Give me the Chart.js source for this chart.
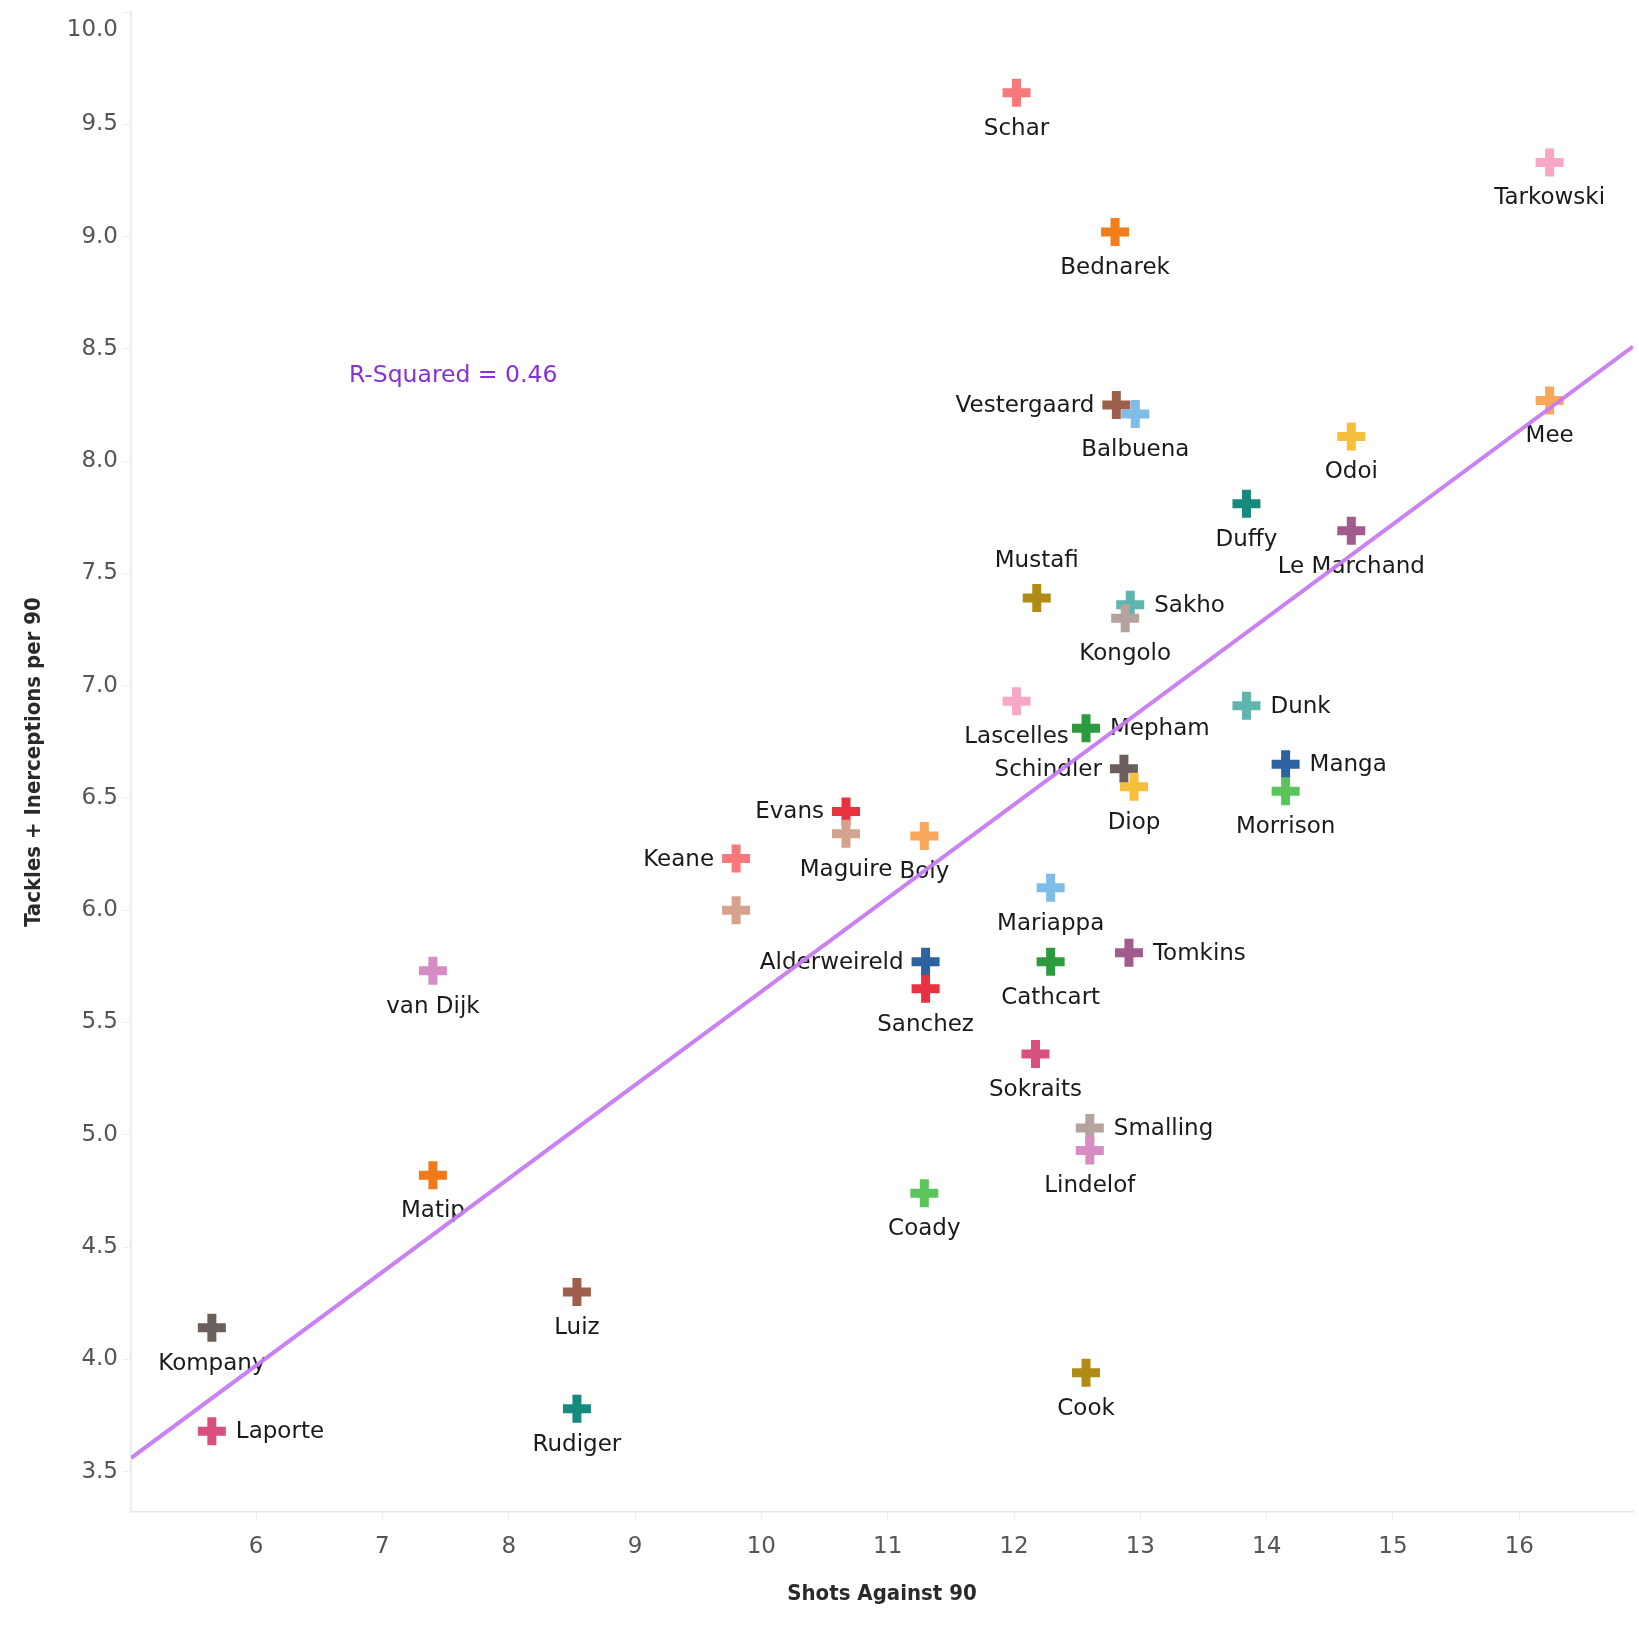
<!DOCTYPE html>
<html><head><meta charset="utf-8">
<script src="https://cdn.jsdelivr.net/npm/chart.js@4.4.1/dist/chart.umd.min.js"></script>
<style>html,body{margin:0;padding:0;background:#fff;}#wrap{width:1639px;height:1629px;position:relative;}</style>
</head><body><div id="wrap"><canvas id="c"></canvas></div>
<script>
// ---- data ----
const players = ["Schar","Tarkowski","Bednarek","Vestergaard","Balbuena","Mee","Odoi","Duffy","Le Marchand","Mustafi",
  "Sakho","Kongolo","Lascelles","Dunk","Mepham","Manga","Schindler","Diop","Morrison","Evans",
  "Maguire","Boly","Keane","Mariappa","","Tomkins","Alderweireld","Cathcart","van Dijk","Sanchez",
  "Sokraits","Smalling","Lindelof","Matip","Coady","Luiz","Kompany","Cook","Rudiger","Laporte"];
const shotsAgainst90 = [12.02,16.24,12.80,12.81,12.96,16.24,14.67,13.84,14.67,12.18,
  12.92,12.88,12.02,13.84,12.57,14.15,12.87,12.95,14.15,10.67,
  10.67,11.29,9.80,12.29,9.80,12.91,11.30,12.29,7.40,11.30,
  12.17,12.60,12.60,7.40,11.29,8.54,5.65,12.57,8.54,5.65];
const tacklesInterceptions90 = [9.64,9.33,9.02,8.25,8.21,8.27,8.11,7.81,7.69,7.39,
  7.36,7.30,6.93,6.91,6.81,6.65,6.63,6.55,6.53,6.44,
  6.34,6.33,6.23,6.10,6.00,5.81,5.77,5.77,5.73,5.65,
  5.36,5.03,4.93,4.82,4.74,4.30,4.14,3.94,3.78,3.68];
const pointColors = ["#f8787b","#f7a8c6","#f07d1a","#9c604c","#7fbde8","#f9a75a","#f5bf3c","#178a80","#a15b8c","#b08c16",
  "#5fb5ad","#b5a39e","#f7a8c6","#5fb5ad","#2e9a3e","#2e62a0","#6b5f5c","#f5bf3c","#5cc45c","#e8323f",
  "#d5a28e","#f9a75a","#f8787b","#7fbde8","#d5a28e","#a15b8c","#2e62a0","#2e9a3e","#d88cc4","#e8323f",
  "#d9507f","#b5a39e","#d88cc4","#f2791a","#5cc45c","#9c604c","#6b5f5c","#b08c16","#178a80","#d9507f"];
// label placement relative to marker: b=below, t=above, l=left, r=right
const labelSide = ["b","b","b","l","b","b","b","b","b","t",
  "r","b","b","r","r","r","l","b","b","l",
  "b","b","l","b","b","r","l","b","b","b",
  "b","r","b","b","b","b","b","b","b","r"];
const xTicks = [6,7,8,9,10,11,12,13,14,15,16];
const yTicks = [3.5,4.0,4.5,5.0,5.5,6.0,6.5,7.0,7.5,8.0,8.5,9.0,9.5,10.0];
const xRange = [5.01, 16.9];
const yRange = [3.32, 10.0];
const trendX = [5.01, 16.9];
const trendY = [3.56, 8.51];
const rSquaredText = "R-Squared = 0.46";
const rSquaredAt = [7.56, 8.38];
const xTitle = "Shots Against 90";
const yTitle = "Tackles + Inerceptions per 90";

const scatterData = shotsAgainst90.map((x, i) => ({x, y: tacklesInterceptions90[i]}));
const trendData = trendX.map((x, i) => ({x, y: trendY[i]}));

const labelPlugin = {
  id: 'pointLabels',
  beforeDatasetsDraw(chart) {
    const meta = chart.getDatasetMeta(1);
    const ctx = chart.ctx;
    ctx.save();
    ctx.font = '23px "DejaVu Sans"';
    ctx.fillStyle = '#1a1a1a';
    meta.data.forEach((pt, i) => {
      const name = players[i];
      if (!name) return;
      const side = labelSide[i];
      let x = pt.x, y = pt.y;
      ctx.textBaseline = 'middle';
      if (side === 'b') { ctx.textAlign = 'center'; y += 36; }
      else if (side === 't') { ctx.textAlign = 'center'; y -= 37; }
      else if (side === 'r') { ctx.textAlign = 'left'; x += 24; y += 1; }
      else { ctx.textAlign = 'right'; x -= 22; y += 1; }
      ctx.fillText(name, x, y);
    });
    const xs = chart.scales.x, ys = chart.scales.y;
    ctx.font = '23.5px "DejaVu Sans"';
    ctx.fillStyle = '#8a2fd8';
    ctx.textAlign = 'center';
    ctx.textBaseline = 'middle';
    ctx.fillText(rSquaredText, xs.getPixelForValue(rSquaredAt[0]), ys.getPixelForValue(rSquaredAt[1]));
    ctx.restore();
  }
};

new Chart(document.getElementById('c'), {
  data: {
    datasets: [
      { type: 'line', data: trendData, borderColor: 'rgba(198,122,242,0.95)', borderWidth: 4,
        pointRadius: 0, fill: false, order: 0 },
      { type: 'scatter', data: scatterData, pointStyle: 'cross', pointRadius: 14, pointHoverRadius: 14,
        pointBorderWidth: 9, pointHoverBorderWidth: 9,
        pointBorderColor: pointColors, pointBackgroundColor: pointColors, order: 1 }
    ]
  },
  options: {
    responsive: true, maintainAspectRatio: false, animation: false,
    layout: { autoPadding: false, padding: { top: 12, right: 6, left: 0, bottom: 0 } },
    plugins: { legend: { display: false }, tooltip: { enabled: false } },
    scales: {
      x: {
        type: 'linear', min: xRange[0], max: xRange[1],
        afterBuildTicks: s => { s.ticks = xTicks.map(v => ({ value: v })); },
        afterFit: s => { s.height = 117; s.paddingLeft = 0; s.paddingRight = 0; },
        ticks: { color: '#555', font: { family: 'DejaVu Sans', size: 23 }, padding: 13, maxRotation: 0,
          callback: v => String(v) },
        grid: { display: true, drawOnChartArea: false, drawTicks: true, tickLength: 8, color: '#eeeeee' },
        border: { display: true, color: '#e6e6e6', width: 1.5 },
        title: { display: true, text: xTitle, color: '#2a2a2a',
          font: { family: "'DejaVu Sans Condensed', 'DejaVu Sans'", weight: 'bold', size: 22 },
          padding: { top: 0, bottom: 22 } }
      },
      y: {
        type: 'linear', min: yRange[0], max: yRange[1],
        afterBuildTicks: s => { s.ticks = yTicks.map(v => ({ value: v })); },
        afterFit: s => { s.width = 131; s.paddingTop = 0; s.paddingBottom = 0; },
        ticks: { color: '#555', padding: 5,
          font: c => ({ family: 'DejaVu Sans', size: 23, lineHeight: (c.tick && c.tick.value === 10) ? 36 / 23 : 1.2 }),
          callback: v => v === 10 ? ['', v.toFixed(1)] : v.toFixed(1) },
        grid: { display: true, drawOnChartArea: false, drawTicks: true, tickLength: 8, color: '#eeeeee' },
        border: { display: true, color: '#e6e6e6', width: 1.5 },
        title: { display: true, text: yTitle, color: '#2a2a2a',
          font: { family: "'DejaVu Sans Condensed', 'DejaVu Sans'", weight: 'bold', size: 22 },
          padding: { top: 21, bottom: 0 } }
      }
    }
  },
  plugins: [labelPlugin]
});
</script></body></html>
